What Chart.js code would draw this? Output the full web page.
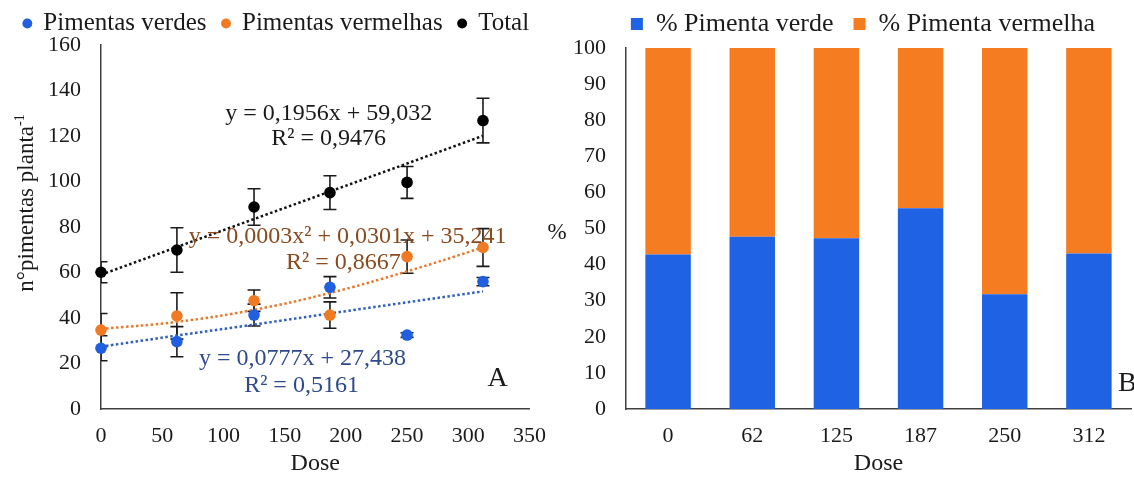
<!DOCTYPE html>
<html>
<head>
<meta charset="utf-8">
<script src="https://cdn.jsdelivr.net/npm/chart.js@4.4.0/dist/chart.umd.min.js"></script>
<style>
   html, body { margin: 0; padding: 0; background: #fff; }
   #wrap { position: relative; width: 1134px; height: 478px; overflow: hidden; }
   canvas { position: absolute; top: 0; }
   #canvas-a { left: 0; }
   #canvas-b { left: 540px; }
</style>
</head>
<body>
<div id="wrap">
   <canvas id="canvas-a" width="560" height="478"></canvas>
   <canvas id="canvas-b" width="594" height="478"></canvas>
</div>
<script>
// --- data ---
const doses = [0, 62, 125, 187, 250, 312];

const verdes = [26.7, 29.6, 41.3, 53.5, 32.5, 56.0];
const verdesErr = [5.5, 6.6, 4.8, 4.7, 1.0, 1.8];
const vermelhas = [34.7, 40.9, 47.6, 41.3, 67.0, 71.0];
const vermelhasErr = [7.3, 10.2, 4.7, 5.8, 7.3, 8.3];
const total = [60.1, 69.9, 88.8, 95.1, 99.6, 126.8];
const totalErr = [4.6, 9.8, 8.0, 7.4, 7.0, 9.8];

// dotted trend lines, read at each dose
const fitVerdes = [27.4, 32.3, 37.1, 42.0, 46.9, 51.7];
const fitVermelhas = [35.2, 38.3, 43.6, 51.0, 60.5, 71.0];
const fitTotal = [59.0, 71.2, 83.5, 95.6, 107.9, 120.1];

const doseLabels = ["0", "62", "125", "187", "250", "312"];
const pctVerde = [42.8, 47.7, 47.3, 55.6, 31.8, 43.1];
const pctVermelha = [57.2, 52.3, 52.7, 44.4, 68.2, 56.9];

const BLUE = "#1f5fe0";
const ORANGE = "#f07a22";
const BLACK = "#000000";
const BAR_BLUE = "#2062e4";
const BAR_ORANGE = "#f57c21";
const AXIS = "#404040";
const TEXT = "#1a1a1a";

Chart.defaults.font.family = "'Liberation Serif', 'Times New Roman', serif";
Chart.defaults.color = TEXT;

const toPoints = (ys) => doses.map((x, i) => ({ x: x, y: ys[i] }));

// keep the legend on one row, force its height, and optionally its edges
const legendBox = (h, left, right) => ({
   id: "legendBox",
   beforeInit(chart) {
      const fit = chart.legend.fit;
      chart.legend.fit = function () {
         this.maxWidth = Math.max(this.maxWidth, 800);
         fit.call(this);
         this.height = h;
      };
   },
   afterLayout(chart) {
      if (left !== undefined) chart.legend.left = left;
      if (right !== undefined) chart.legend.right = right;
   },
});

const errorBars = {
   id: "errorBars",
   beforeDatasetsDraw(chart) {
      const { ctx, chartArea } = chart;
      const xs = chart.scales.x;
      const ys = chart.scales.y;
      ctx.save();
      ctx.beginPath();
      ctx.rect(chartArea.left, chartArea.top, chartArea.right - chartArea.left, chartArea.bottom - chartArea.top);
      ctx.clip();
      ctx.strokeStyle = "#1a1a1a";
      ctx.lineWidth = 1.6;
      chart.data.datasets.forEach((ds) => {
         if (!ds.errors) return;
         ds.data.forEach((p, i) => {
            const px = xs.getPixelForValue(p.x);
            const top = ys.getPixelForValue(p.y + ds.errors[i]);
            const bot = ys.getPixelForValue(p.y - ds.errors[i]);
            ctx.beginPath();
            ctx.moveTo(px, top);
            ctx.lineTo(px, bot);
            ctx.moveTo(px - 6.5, top);
            ctx.lineTo(px + 6.5, top);
            ctx.moveTo(px - 6.5, bot);
            ctx.lineTo(px + 6.5, bot);
            ctx.stroke();
         });
      });
      ctx.restore();
   },
};

const notesA = {
   id: "notesA",
   afterDraw(chart) {
      const { ctx } = chart;
      const xs = chart.scales.x;
      const ys = chart.scales.y;
      const notes = [
         { t: "y = 0,1956x + 59,032", x: 186, y: 129.7, c: "#1a1a1a" },
         { t: "R² = 0,9476", x: 186, y: 118.7, c: "#1a1a1a" },
         { t: "y = 0,0003x² + 0,0301x + 35,241", x: 201.5, y: 75.6, c: "#8a4a1e" },
         { t: "R² = 0,8667", x: 198, y: 64.2, c: "#8a4a1e" },
         { t: "y = 0,0777x + 27,438", x: 164.6, y: 22, c: "#2e4a8c" },
         { t: "R² = 0,5161", x: 163.8, y: 10.1, c: "#2e4a8c" },
      ];
      ctx.save();
      ctx.textAlign = "center";
      ctx.textBaseline = "middle";
      ctx.font = "24px 'Liberation Serif', serif";
      notes.forEach((n) => {
         ctx.fillStyle = n.c;
         ctx.fillText(n.t, xs.getPixelForValue(n.x), ys.getPixelForValue(n.y));
      });
      ctx.font = "28px 'Liberation Serif', serif";
      ctx.fillStyle = TEXT;
      ctx.fillText("A", xs.getPixelForValue(324), ys.getPixelForValue(13.2));

      // rotated y title with superscript
      ctx.translate(33, 203);
      ctx.rotate(-Math.PI / 2);
      ctx.textAlign = "left";
      ctx.textBaseline = "alphabetic";
      ctx.font = "23px 'Liberation Serif', serif";
      const main = "n°pimentas planta";
      const w1 = ctx.measureText(main).width;
      ctx.font = "14px 'Liberation Serif', serif";
      const w2 = ctx.measureText("-1").width;
      const start = -(w1 + w2) / 2;
      ctx.font = "23px 'Liberation Serif', serif";
      ctx.fillText(main, start, 0);
      ctx.font = "14px 'Liberation Serif', serif";
      ctx.fillText("-1", start + w1, -9);
      ctx.restore();
   },
};

const notesB = {
   id: "notesB",
   afterDraw(chart) {
      const { ctx } = chart;
      ctx.save();
      ctx.fillStyle = TEXT;
      ctx.textBaseline = "middle";
      ctx.textAlign = "center";
      ctx.font = "23px 'Liberation Serif', serif";
      ctx.fillText("%", 17, 233);
      ctx.textAlign = "left";
      ctx.font = "28px 'Liberation Serif', serif";
      ctx.fillText("B", 578, 384);
      ctx.restore();
   },
};

const drawChartA = () => {
   const canvas = document.getElementById("canvas-a");
   const pointSet = (label, ys, errs, color) => ({
      label: label,
      data: toPoints(ys),
      errors: errs,
      backgroundColor: color,
      borderColor: color,
      pointRadius: 5.8,
      pointBorderWidth: 0,
      clip: false,
   });
   const trendSet = (ys, color, tension) => ({
      type: "line",
      label: "trend",
      data: toPoints(ys),
      borderColor: color,
      borderWidth: 2.5,
      borderDash: [2.5, 2.5],
      pointRadius: 0,
      fill: false,
      tension: tension,
   });

   new Chart(canvas, {
      type: "scatter",
      data: {
         datasets: [
            pointSet("Pimentas verdes", verdes, verdesErr, BLUE),
            pointSet("Pimentas vermelhas", vermelhas, vermelhasErr, ORANGE),
            pointSet("Total", total, totalErr, BLACK),
            trendSet(fitVerdes, "#2f5fc0", 0),
            trendSet(fitVermelhas, "#e8782a", 0.4),
            trendSet(fitTotal, "#111111", 0),
         ],
      },
      options: {
         responsive: false,
         animation: false,
         layout: { padding: { left: 0, right: 23, top: -5, bottom: 0 } },
         plugins: {
            tooltip: { enabled: false },
            legend: {
               display: true,
               position: "top",
               labels: {
                  filter: (item) => item.datasetIndex < 3,
                  usePointStyle: true,
                  pointStyle: "circle",
                  boxWidth: 7,
                  boxHeight: 7,
                  padding: 16,
                  color: TEXT,
                  font: { size: 25 },
               },
            },
         },
         scales: {
            x: {
               type: "linear",
               min: 0,
               max: 350,
               ticks: { stepSize: 50, padding: 14, font: { size: 22 }, color: TEXT },
               grid: { display: false, drawTicks: false },
               border: { display: true, color: AXIS, width: 1.5 },
               title: { display: true, text: "Dose", font: { size: 24 }, color: TEXT, padding: 0 },
               afterFit: (scale) => { scale.height = 69; },
            },
            y: {
               min: 0,
               max: 160,
               ticks: { stepSize: 20, padding: 20, font: { size: 22 }, color: TEXT },
               grid: { display: false, drawTicks: false },
               border: { display: true, color: AXIS, width: 1.5 },
               afterFit: (scale) => { scale.width = 101; },
            },
         },
      },
      plugins: [legendBox(50, -7, 560), errorBars, notesA],
   });
};

const drawChartB = () => {
   const canvas = document.getElementById("canvas-b");
   new Chart(canvas, {
      type: "bar",
      data: {
         labels: doseLabels,
         datasets: [
            { label: "% Pimenta verde", data: pctVerde, backgroundColor: BAR_BLUE, borderWidth: 0 },
            { label: "% Pimenta vermelha", data: pctVermelha, backgroundColor: BAR_ORANGE, borderWidth: 0 },
         ],
      },
      options: {
         responsive: false,
         animation: false,
         datasets: { bar: { categoryPercentage: 1, barPercentage: 0.54 } },
         layout: { padding: { left: 0, right: 3, top: -9, bottom: 0 } },
         plugins: {
            tooltip: { enabled: false },
            legend: {
               display: true,
               position: "top",
               labels: {
                  boxWidth: 12,
                  boxHeight: 12,
                  padding: 20,
                  color: TEXT,
                  font: { size: 26 },
               },
            },
         },
         scales: {
            x: {
               stacked: true,
               ticks: { padding: 14, font: { size: 22 }, color: TEXT },
               grid: { display: false, drawTicks: false },
               border: { display: true, color: AXIS, width: 1.5 },
               title: { display: true, text: "Dose", font: { size: 24 }, color: TEXT, padding: 0 },
               afterFit: (scale) => { scale.height = 69; },
            },
            y: {
               stacked: true,
               min: 0,
               max: 100,
               ticks: { stepSize: 10, padding: 20, font: { size: 22 }, color: TEXT },
               grid: { display: false, drawTicks: false },
               border: { display: true, color: AXIS, width: 1.5 },
               afterFit: (scale) => { scale.width = 86; },
            },
         },
      },
      plugins: [legendBox(57, 55), notesB],
   });
};

drawChartA();
drawChartB();
</script>
</body>
</html>
